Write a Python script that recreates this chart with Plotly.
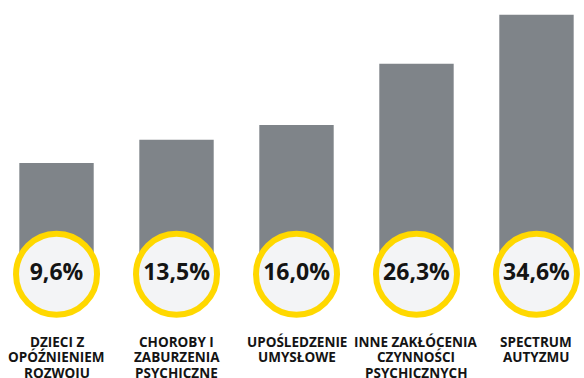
import plotly.graph_objects as go

# Diagnosis groups and their share (%)
categories = [
    "DZIECI Z\nOPÓŹNIENIEM\nROZWOJU",
    "CHOROBY I\nZABURZENIA\nPSYCHICZNE",
    "UPOŚLEDZENIE\nUMYSŁOWE",
    "INNE ZAKŁÓCENIA\nCZYNNOŚCI\nPSYCHICZNYCH",
    "SPECTRUM\nAUTYZMU",
]
shares = [9.6, 13.5, 16.0, 26.3, 34.6]

BAR_GREY = "#7f8489"
YELLOW = "#ffd800"
DISC_FILL = "#f3f4f6"
INK = "#141414"
FONT = "Open Sans"

# bars start behind the badge discs, a little below zero
BADGE_Y = -9.2
W, H = 584, 378
Y_RANGE = [-26.68, 37.07]
X_RANGE = [-0.471, 4.396]

xs = list(range(len(categories)))
pct_text = [f"{v:.1f}".replace(".", ",") + "%" for v in shares]

fig = go.Figure()

fig.add_trace(go.Bar(
    x=xs,
    y=[v - BADGE_Y for v in shares],
    base=BADGE_Y,
    width=0.62,
    marker=dict(color=BAR_GREY, line=dict(width=0)),
    hoverinfo="skip",
))

fig.add_trace(go.Scatter(
    x=xs,
    y=[BADGE_Y] * len(xs),
    mode="markers+text",
    marker=dict(size=81, color=DISC_FILL, line=dict(color=YELLOW, width=6)),
    text=pct_text,
    textposition="middle center",
    textfont=dict(family=FONT, size=23, color=INK, weight="bold"),
    hoverinfo="skip",
))

# category captions, one annotation per line
def px_to_paper(py):
    return 1 - py / H

line_centres = [341.5, 357.3, 373.0]
for x, label in zip(xs, categories):
    for i, line in enumerate(label.split("\n")):
        fig.add_annotation(
            x=x, xref="x",
            y=px_to_paper(line_centres[i]), yref="paper",
            text=line, showarrow=False,
            xanchor="center", yanchor="middle",
            borderpad=0,
            font=dict(family=FONT, size=13.5, color=INK, weight="bold"),
        )

fig.update_layout(
    width=W, height=H,
    margin=dict(l=0, r=0, t=0, b=0),
    paper_bgcolor="white",
    plot_bgcolor="white",
    showlegend=False,
    xaxis=dict(range=X_RANGE, visible=False, fixedrange=True),
    yaxis=dict(range=Y_RANGE, visible=False, fixedrange=True),
)

fig.write_html("out.html")
